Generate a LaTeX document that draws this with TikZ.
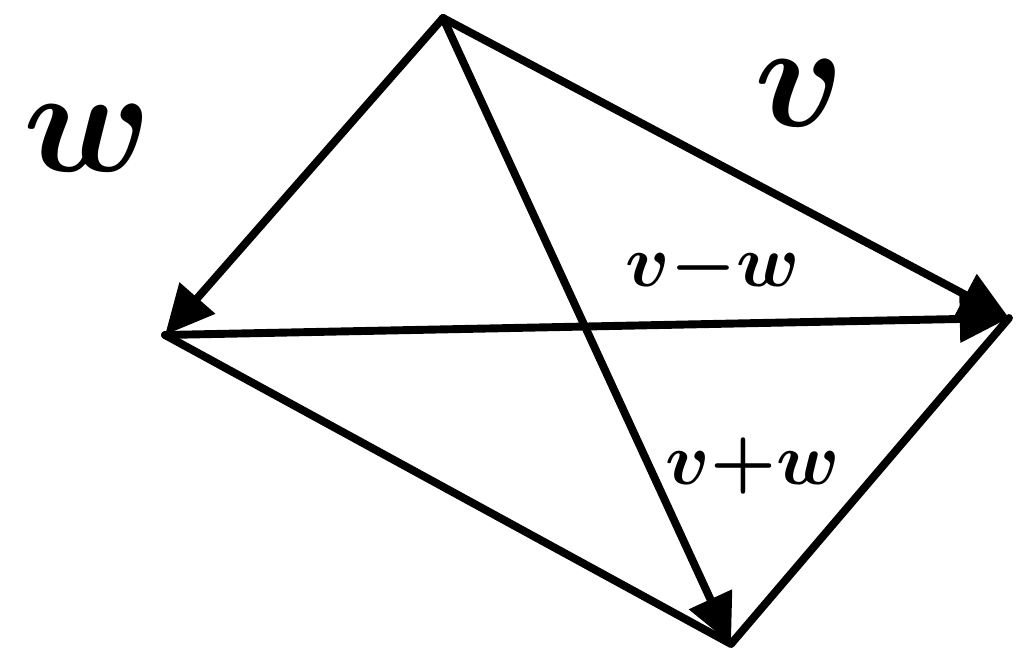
\documentclass[tikz,border=0pt]{standalone}
\usepackage{amsmath}
\usepackage{tikz}
\usetikzlibrary{arrows.meta,positioning,calc}

\begin{document}
\begin{tikzpicture}[
  vecline/.style={line width=4.5pt, line cap=round, line join=round},
  vecarrow/.style={vecline, -{Triangle[length=28pt,width=26pt]}},
  biglabel/.style={scale=8.5, transform shape, inner sep=0pt, font=\boldmath},
  midlabel/.style={scale=4.2, transform shape, inner sep=0pt, font=\boldmath},
]
\useasboundingbox (0,0) rectangle (20.42,13.22);
% corners of the parallelogram (1px = 0.02cm)
\coordinate (tp) at (8.86,12.86);
\coordinate (lf) at (3.30,6.52);
\coordinate (rt) at (20.18,6.86);
\coordinate (bt) at (14.62,0.34);

% sides without tips
\draw[vecline] (lf) -- (bt) -- (rt);

% vectors
\draw[vecarrow] (tp) -- (lf);
\draw[vecarrow] (tp) -- (rt);
\draw[vecarrow] (lf) -- (rt);
\draw[vecarrow] (tp) -- (bt);

% labels
\node[biglabel] (lw) at (1.75,10.45) {$w$};
\node[biglabel] (lv) at (16.00,11.35) {$v$};
\node[midlabel] (ldiff) at (14.25,7.85) {$v{-}w$};
\node[midlabel] (lsum) at (15.05,3.90) {$v{+}w$};
\end{tikzpicture}
\end{document}
